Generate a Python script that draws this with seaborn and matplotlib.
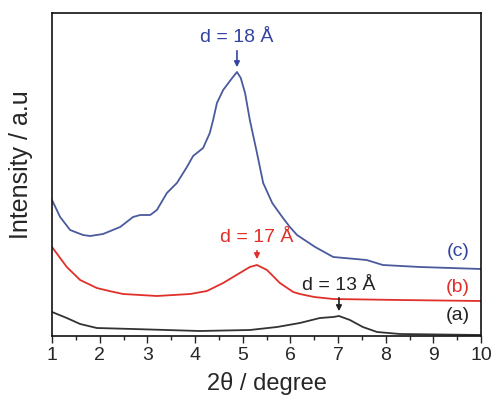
import numpy as np
import pandas as pd
import matplotlib
matplotlib.use("Agg")
import matplotlib.pyplot as plt
import seaborn as sns

sns.set_style("ticks")
plt.rcParams['font.family'] = ['Liberation Sans', 'DejaVu Sans']

# Curve (a) - black
theta_a = [1.0, 1.31, 1.59, 1.94, 2.7, 4.1, 5.15, 5.72, 6.2, 6.62, 6.9, 7.02, 7.25, 7.52, 7.82, 8.3, 10.0]
int_a = [24, 18, 12, 8, 7, 5, 6, 9, 13, 18, 19, 20, 16, 9, 4, 2, 1]

# Curve (b) - red
theta_b = [1.0, 1.31, 1.59, 1.94, 2.2, 2.49, 2.85, 3.2, 3.55, 3.9, 4.25, 4.59, 4.94, 5.15, 5.3, 5.51,
           5.78, 6.06, 6.2, 6.5, 6.9, 8.3, 10.0]
int_b = [89, 69, 56, 48, 45, 42, 41, 40, 41, 42, 45, 53, 63, 69, 71, 66, 53, 44, 42, 39, 37, 36, 35]

# Curve (c) - blue
theta_c = [1.0, 1.17, 1.38, 1.65, 1.8, 2.07, 2.43, 2.7, 2.85, 3.06, 3.2, 3.41, 3.62, 3.83,
           3.96, 4.17, 4.31, 4.38, 4.46, 4.59, 4.78, 4.88, 4.96, 5.05, 5.15, 5.3, 5.43,
           5.62, 5.83, 5.99, 6.14, 6.52, 6.9, 7.6, 7.94, 8.72, 10.0]
int_c = [136, 119, 106, 101, 100, 102, 109, 119, 121, 121, 126, 143, 153, 169,
         180, 188, 203, 216, 233, 246, 258, 264, 258, 243, 216, 183, 153,
         133, 119, 109, 101, 89, 79, 76, 71, 69, 67]

# peak annotations: peak position, label, colour
peaks = [(4.88, 264, "d = 18 Å", "#3344a0"), (5.3, 71, "d = 17 Å", "#e0302a"), (7.02, 20, "d = 13 Å", "#222222")]
# label height, arrow start, arrow end
ann_pos = [(299, 288, 266), (98, 88, 74), (51, 41, 22)]
labels = [("(c)", 84, "#3344a0"), ("(b)", 48, "#e0302a"), ("(a)", 20, "#222222")]

fig = plt.figure(figsize=(4.93, 4.0), dpi=100)
ax = fig.add_axes([0.1055, 0.16, 0.8702, 0.8075])

sns.lineplot(x=theta_a, y=int_a, color="#333333", lw=1.3, ax=ax)
sns.lineplot(x=theta_b, y=int_b, color="#e0302a", lw=1.3, ax=ax)
sns.lineplot(x=theta_c, y=int_c, color="#4a5a9c", lw=1.3, ax=ax)

for (x, y, txt, col), (ty, a0, a1) in zip(peaks, ann_pos):
    ax.annotate("", xy=(x, a1), xytext=(x, a0),
                arrowprops=dict(arrowstyle="-|>", color=col, lw=1.2, mutation_scale=8))
    ax.text(x, ty, txt, color=col, fontsize=14, ha="center", va="center")

for txt, y, col in labels:
    ax.text(9.77, y, txt, color=col, fontsize=14, ha="right", va="center")

ax.set_xlim(1, 10)
ax.set_ylim(0, 323)
ax.set_xticks(range(1, 11))
ax.set_xticks(np.arange(1.5, 10, 1), minor=True)
ax.set_yticks([])
ax.tick_params(axis="x", which="major", direction="out", length=5, width=1, labelsize=14, pad=3)
ax.tick_params(axis="x", which="minor", direction="out", length=3, width=1)
for sp in ax.spines.values():
    sp.set_linewidth(1.2)
    sp.set_color("#111111")

ax.set_xlabel("2θ / degree", fontsize=17, labelpad=6)
ax.set_ylabel("Intensity / a.u", fontsize=18)
ax.yaxis.set_label_coords(-0.045, 0.53)

fig.savefig("out.png", dpi=100)
